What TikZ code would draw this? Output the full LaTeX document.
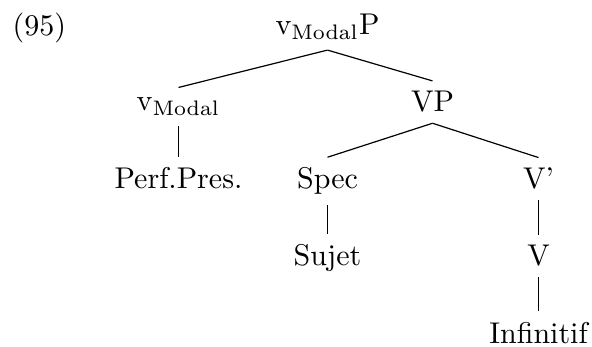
\documentclass[tikz,border=0pt]{standalone}
\begin{document}
\begin{tikzpicture}[x=0.33333pt,y=-0.33333pt,
  every node/.style={font=\normalsize},
  lbl/.style={anchor=base},
  edge/.style={draw=black, line width=0.4pt}]
\useasboundingbox (0,0) rectangle (592,347);
\node[anchor=base west, inner sep=0pt] (ex) at (12,36) {(95)};
\node[lbl] (root) at (327.5,35) {v$_{\mathrm{Modal}}$P};
\node[lbl] (vmod) at (178.5,111) {v$_{\mathrm{Modal}}$};
\node[lbl] (vp) at (432.5,112) {VP};
\node[lbl] (perf) at (178.5,189) {Perf.Pres.};
\node[lbl] (spec) at (327.5,189) {Spec};
\node[lbl] (vbar) at (538.5,189) {V'};
\node[lbl] (sujet) at (327.5,266) {Sujet};
\node[lbl] (v) at (538.5,266) {V};
\node[lbl] (inf) at (538.5,343) {Infinitif};
\draw[edge] (root.south) -- (vmod.north);
\draw[edge] (root.south) -- (vp.north);
\draw[edge] (vmod.south) -- (perf.north);
\draw[edge] (vp.south) -- (spec.north);
\draw[edge] (vp.south) -- (vbar.north);
\draw[edge] (spec.south) -- (sujet.north);
\draw[edge] (vbar.south) -- (v.north);
\draw[edge] (v.south) -- (inf.north);
\end{tikzpicture}
\end{document}
